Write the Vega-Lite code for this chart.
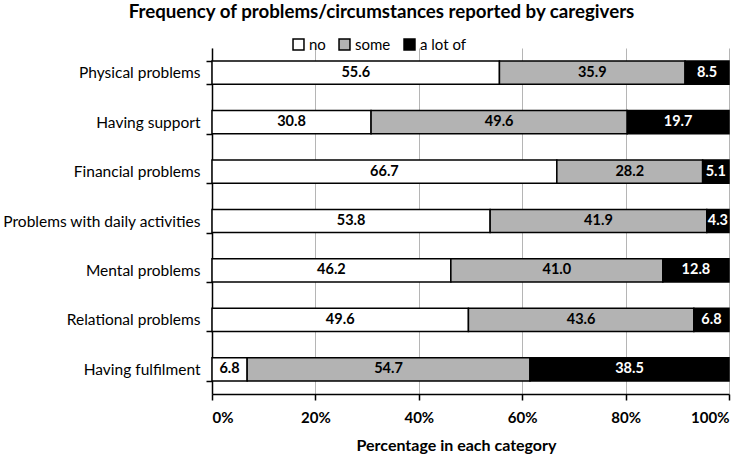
{
  "$schema": "https://vega.github.io/schema/vega-lite/v6.json",
  "width": 517,
  "height": 346,
  "autosize": {"type": "none"},
  "padding": {"left": 212, "top": 48, "right": 21, "bottom": 67},
  "background": "white",
  "title": {
    "text": "Frequency of problems/circumstances reported by caregivers",
    "anchor": "middle",
    "frame": "group",
    "dx": -89,
    "offset": 15,
    "font": "Lato",
    "fontSize": 18.7,
    "fontWeight": "bold",
    "color": "black"
  },
  "config": {
    "view": {"stroke": null},
    "font": "Lato"
  },
  "data": {
    "values": [
      {"category": "Physical problems", "level": "no", "value": 55.6},
      {"category": "Physical problems", "level": "some", "value": 35.9},
      {"category": "Physical problems", "level": "a lot of", "value": 8.5},
      {"category": "Having support", "level": "no", "value": 30.8},
      {"category": "Having support", "level": "some", "value": 49.6},
      {"category": "Having support", "level": "a lot of", "value": 19.7},
      {"category": "Financial problems", "level": "no", "value": 66.7},
      {"category": "Financial problems", "level": "some", "value": 28.2},
      {"category": "Financial problems", "level": "a lot of", "value": 5.1},
      {"category": "Problems with daily activities", "level": "no", "value": 53.8},
      {"category": "Problems with daily activities", "level": "some", "value": 41.9},
      {"category": "Problems with daily activities", "level": "a lot of", "value": 4.3},
      {"category": "Mental problems", "level": "no", "value": 46.2},
      {"category": "Mental problems", "level": "some", "value": 41.0},
      {"category": "Mental problems", "level": "a lot of", "value": 12.8},
      {"category": "Relational problems", "level": "no", "value": 49.6},
      {"category": "Relational problems", "level": "some", "value": 43.6},
      {"category": "Relational problems", "level": "a lot of", "value": 6.8},
      {"category": "Having fulfilment", "level": "no", "value": 6.8},
      {"category": "Having fulfilment", "level": "some", "value": 54.7},
      {"category": "Having fulfilment", "level": "a lot of", "value": 38.5}
    ]
  },
  "transform": [
    {"calculate": "indexof(['no','some','a lot of'], datum.level)", "as": "rank"}
  ],
  "encoding": {
    "y": {
      "field": "category",
      "type": "nominal",
      "sort": null,
      "scale": {"paddingInner": 0.53, "paddingOuter": 0.265},
      "axis": {
        "title": null,
        "domainColor": "black",
        "domainWidth": 1.5,
        "tickColor": "black",
        "tickWidth": 1.5,
        "tickSize": 6,
        "tickBand": "extent",
        "labelFont": "Lato",
        "labelFontSize": 15.5,
        "labelColor": "black",
        "labelPadding": 6,
        "labelLimit": 240,
        "grid": false
      }
    },
    "x": {
      "field": "value",
      "type": "quantitative",
      "stack": "normalize",
      "scale": {"domain": [0, 1]},
      "axis": {
        "title": "Percentage in each category",
        "titleFont": "Lato",
        "titleFontSize": 16,
        "titleFontWeight": "bold",
        "titleColor": "black",
        "titlePadding": 12,
        "titleAnchor": "middle",
        "titleX": 244,
        "values": [0, 0.2, 0.4, 0.6, 0.8, 1],
        "format": ".0%",
        "labelFont": "Lato",
        "labelFontSize": 15,
        "labelFontWeight": "bold",
        "labelColor": "black",
        "labelPadding": 10,
        "domainColor": "black",
        "domainWidth": 1.5,
        "tickColor": "black",
        "tickWidth": 1.5,
        "tickSize": 6,
        "grid": true,
        "gridColor": "#b5b5b5",
        "gridWidth": 1
      }
    },
    "order": {"field": "rank", "type": "quantitative"}
  },
  "layer": [
    {
      "mark": {"type": "bar", "stroke": "black", "strokeWidth": 1.5},
      "encoding": {
        "color": {
          "field": "level",
          "type": "nominal",
          "sort": ["no", "some", "a lot of"],
          "scale": {"domain": ["no", "some", "a lot of"], "range": ["#ffffff", "#b3b3b3", "#000000"]},
          "legend": {
            "title": null,
            "orient": "none",
            "legendX": 79,
            "legendY": -11,
            "direction": "horizontal",
            "symbolType": "square",
            "symbolSize": 120,
            "symbolStrokeColor": "black",
            "symbolStrokeWidth": 1.5,
            "symbolOpacity": 1,
            "labelFont": "Lato",
            "labelFontSize": 15,
            "labelColor": "black",
            "labelOffset": 3,
            "columnPadding": 10
          }
        }
      }
    },
    {
      "mark": {"type": "text", "font": "Lato", "fontSize": 14.5, "fontWeight": "bold", "baseline": "middle", "align": "center"},
      "encoding": {
        "x": {"field": "value", "type": "quantitative", "stack": "normalize", "bandPosition": 0.5},
        "text": {"field": "value", "type": "quantitative", "format": ".1f"},
        "color": {
          "field": "level",
          "type": "nominal",
          "scale": {"domain": ["no", "some", "a lot of"], "range": ["#000000", "#000000", "#ffffff"]},
          "legend": null
        }
      }
    }
  ],
  "resolve": {"scale": {"color": "independent"}}
}
